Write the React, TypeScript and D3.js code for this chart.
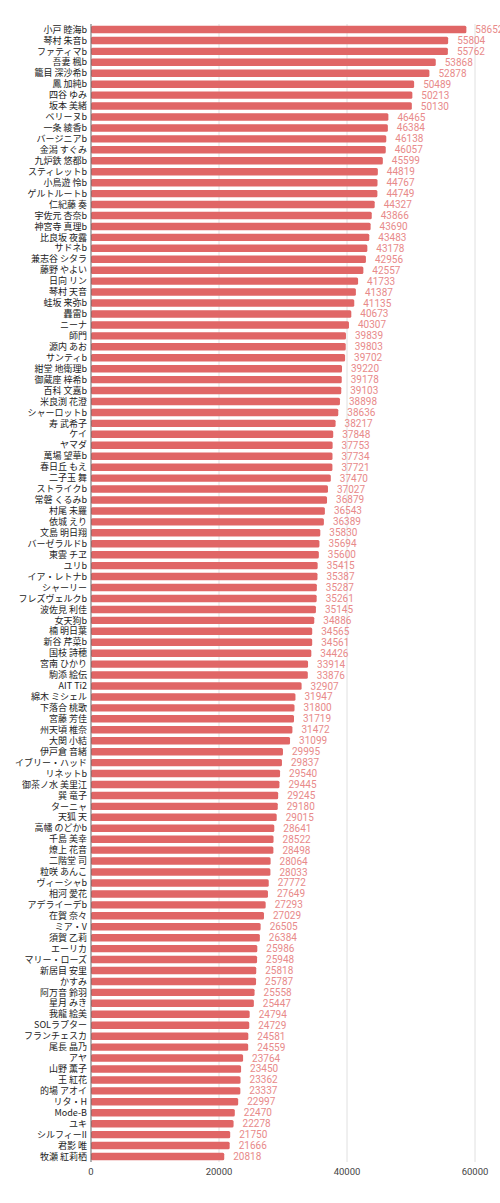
import React from "react";
import * as d3 from "d3";

const names: string[] = [
  "小戸 睦海b", "琴村 朱音b", "ファティマb", "吾妻 楓b", "籠目 深沙希b", "鳳 加純b", "四谷 ゆみ", "坂本 美緒",
  "ベリーヌb", "一条 綾香b", "バージニアb", "金潟 すぐみ", "九炉鉄 悠都b", "スティレットb", "小鳥遊 怜b", "ゲルトルートb",
  "仁紀藤 奏", "宇佐元 杏奈b", "神宮寺 真理b", "比良坂 夜露", "サドネb", "兼志谷 シタラ", "藤野 やよい", "日向 リン",
  "琴村 天音", "蛙坂 来弥b", "轟雷b", "ニーナ", "師門", "源内 あお", "サンティb", "紺堂 地衛理b",
  "御蔵座 梓希b", "百科 文嘉b", "米良渕 花澄", "シャーロットb", "寿 武希子", "ケイ", "ヤマダ", "萬場 望華b",
  "春日丘 もえ", "二子玉 舞", "ストライクb", "常磐 くるみb", "村尾 未羅", "依城 えり", "文島 明日翔", "バーゼラルドb",
  "東雲 チヱ", "ユリb", "イア・レトナb", "シャーリー", "フレズヴェルクb", "波佐見 利佳", "女天狗b", "楠 明日葉",
  "新谷 芹菜b", "国枝 詩穂", "宮南 ひかり", "駒添 絵伝", "AIT Ti2", "綿木 ミシェル", "下落合 桃歌", "宮藤 芳佳",
  "州天頃 椎奈", "大関 小結", "伊戸倉 音緒", "イブリー・ハッド", "リネットb", "御茶ノ水 美里江", "巽 竜子", "ターニャ",
  "天狐 天", "高幡 のどかb", "千島 美幸", "燎上 花音", "二階堂 司", "粒咲 あんこ", "ヴィーシャb", "相河 愛花",
  "アデライーデb", "在賀 奈々", "ミア・V", "須賀 乙莉", "エーリカ", "マリー・ローズ", "新居目 安里", "かすみ",
  "阿万音 鈴羽", "星月 みき", "我龍 絵美", "SOLラプター", "フランチェスカ", "尾長 晶乃", "アヤ", "山野 薫子",
  "王 紅花", "的場 アオイ", "リタ・H", "Mode-B", "ユキ", "シルフィーII", "君影 唯", "牧瀬 紅莉栖",
];

const values: number[] = [
  58652, 55804, 55762, 53868, 52878, 50489, 50213, 50130,
  46465, 46384, 46138, 46057, 45599, 44819, 44767, 44749,
  44327, 43866, 43690, 43483, 43178, 42956, 42557, 41733,
  41387, 41135, 40673, 40307, 39839, 39803, 39702, 39220,
  39178, 39103, 38898, 38636, 38217, 37848, 37753, 37734,
  37721, 37470, 37027, 36879, 36543, 36389, 35830, 35694,
  35600, 35415, 35387, 35287, 35261, 35145, 34886, 34565,
  34561, 34426, 33914, 33876, 32907, 31947, 31800, 31719,
  31472, 31099, 29995, 29837, 29540, 29445, 29245, 29180,
  29015, 28641, 28522, 28498, 28064, 28033, 27772, 27649,
  27293, 27029, 26505, 26384, 25986, 25948, 25818, 25787,
  25558, 25447, 24794, 24729, 24581, 24559, 23764, 23450,
  23362, 23337, 22997, 22470, 22278, 21750, 21666, 20818,
];

const ticks: number[] = [0, 20000, 40000, 60000];

const W = 500;
const H = 1203;
const left = 91;
const right = 475;
const top = 24;
const bottom = 1162;

export default function App() {
  const x = d3.scaleLinear().domain([0, 60000]).range([left, right]);
  const y = d3
    .scaleBand<string>()
    .domain(names.map((n, i) => `${i}`))
    .range([top, bottom])
    .paddingInner(0.32)
    .paddingOuter(0.16);
  const bw = y.bandwidth();
  return (
    <div style={{ position: "absolute", left: 0, top: 0 }}>
      <svg width={W} height={H} style={{ display: "block", background: "#fff" }}>
        {ticks.slice(1).map((t) => (
          <line key={t} x1={x(t)} x2={x(t)} y1={top} y2={bottom} stroke="#e0e0e0" strokeWidth={1} />
        ))}
        {values.map((v, i) => (
          <rect
            key={i}
            x={x(0)}
            y={y(`${i}`)!}
            width={x(v) - x(0)}
            height={bw}
            rx={1.5}
            fill="#e06666"
          />
        ))}
        <line x1={x(0)} x2={x(0)} y1={top} y2={bottom} stroke="#666" strokeWidth={1} />
        {names.map((n, i) => (
          <text
            key={i}
            x={left - 4}
            y={y(`${i}`)! + bw / 2}
            dy="0.35em"
            textAnchor="end"
            fontSize={9}
            fill="#222"
            fontFamily="'Noto Sans CJK JP', 'Noto Sans', sans-serif"
          >
            {n}
          </text>
        ))}
        {values.map((v, i) => (
          <text
            key={i}
            x={x(v) + 9}
            y={y(`${i}`)! + bw / 2}
            dy="0.35em"
            fontSize={10}
            fill="#e88a8a"
            fontFamily="Roboto, sans-serif"
          >
            {v}
          </text>
        ))}
        {ticks.map((t) => (
          <text
            key={t}
            x={x(t)}
            y={bottom + 13}
            textAnchor="middle"
            fontSize={9.5}
            fill="#444"
            fontFamily="Roboto, sans-serif"
          >
            {t}
          </text>
        ))}
      </svg>
    </div>
  );
}
